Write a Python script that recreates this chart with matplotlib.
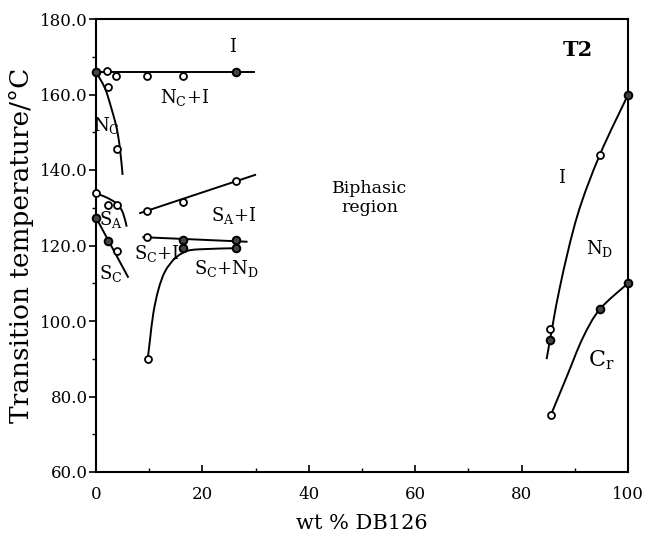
import matplotlib
matplotlib.use("Agg")
import matplotlib.pyplot as plt
from matplotlib.path import Path
from matplotlib.patches import PathPatch
from matplotlib.ticker import MultipleLocator, FormatStrFormatter

plt.rcParams['font.family'] = ['DejaVu Serif']
plt.rcParams['mathtext.fontset'] = 'custom'
plt.rcParams['mathtext.rm'] = 'DejaVu Serif'
plt.rcParams['mathtext.it'] = 'DejaVu Serif:italic'

# ---- data (wt % DB126, temperature / degC) ----
# I -> N_C+I boundary (horizontal)
top_line_x = [0, 29.7]
top_line_t = [166.0, 166.0]
top_open_x = [2.1, 3.8, 9.5, 16.4]
top_open_t = [166.3, 165.0, 165.0, 165.0]
top_fill_x = [0, 26.3]
top_fill_t = [166.0, 166.0]

# N_C curve
nc_x = [0, 1.7, 2.9, 3.9, 4.5, 5.0]
nc_t = [166.0, 161.6, 156.3, 151.0, 145.7, 138.7]
nc_pts_x = [2.2, 3.9]
nc_pts_t = [162.1, 145.6]

# S_A curve
sa_x = [0, 1.37, 2.95, 4.2, 5.1, 5.77]
sa_t = [133.8, 133.1, 132.0, 130.7, 128.5, 125.0]
sa_pts_x = [0, 2.3, 4.0]
sa_pts_t = [133.8, 130.7, 130.7]

# S_C line
sc_x = [0, 6.0]
sc_t = [127.4, 111.7]
sc_fill_x = [0, 2.2]
sc_fill_t = [127.4, 121.2]
sc_open_x = [3.9]
sc_open_t = [118.6]

# S_A+I line
sai_x = [8.3, 29.9]
sai_t = [128.6, 138.7]
sai_pts_x = [9.5, 16.4, 26.3]
sai_pts_t = [129.2, 131.4, 137.0]

# S_C+I line
sci_x = [8.9, 28.3]
sci_t = [122.2, 121.0]
sci_open_x = [9.5]
sci_open_t = [122.2]
sci_fill_x = [16.4, 26.3]
sci_fill_t = [121.5, 121.5]

# S_C+N_D curve
scn_x = [9.72, 10.15, 10.77, 11.71, 12.97, 14.85, 17.05, 19.55, 26.44]
scn_t = [89.9, 95.0, 102.0, 108.2, 113.1, 116.6, 118.5, 119.0, 119.3]
scn_open_x = [9.7]
scn_open_t = [89.9]
scn_fill_x = [16.4, 26.3]
scn_fill_t = [119.3, 119.3]

# I / N_D curve (right)
ind_x = [84.7, 87.2, 90.5, 94.7, 100.0]
ind_t = [89.9, 109.0, 128.0, 144.0, 159.9]
ind_open_x = [85.3, 94.7]
ind_open_t = [97.8, 144.0]
ind_fill_x = [85.3, 100.0]
ind_fill_t = [95.0, 159.9]

# Cr curve
cr_x = [85.5, 88.5, 91.5, 94.7, 100.0]
cr_t = [75.1, 85.3, 95.5, 103.1, 110.0]
cr_open_x = [85.5]
cr_open_t = [75.1]
cr_fill_x = [94.7, 100.0]
cr_fill_t = [103.1, 110.0]

fig = plt.figure(figsize=(6.49, 5.38), dpi=100)
ax = fig.add_axes([96/649, 1-472/538, 532/649, 453/538])

lw = 1.4


def smooth_curve(ax, xs, ts):
    """Draw a smooth (Catmull-Rom as cubic Bezier) path through the given points."""
    pts = list(zip(xs, ts))
    if len(pts) < 3:
        ax.plot(xs, ts, color='black', lw=lw, zorder=2)
        return
    verts = [pts[0]]
    codes = [Path.MOVETO]
    n = len(pts)
    for i in range(n - 1):
        p0 = pts[i - 1] if i > 0 else pts[i]
        p1 = pts[i]
        p2 = pts[i + 1]
        p3 = pts[i + 2] if i + 2 < n else pts[i + 1]
        c1 = (p1[0] + (p2[0] - p0[0]) / 6.0, p1[1] + (p2[1] - p0[1]) / 6.0)
        c2 = (p2[0] - (p3[0] - p1[0]) / 6.0, p2[1] - (p3[1] - p1[1]) / 6.0)
        verts += [c1, c2, p2]
        codes += [Path.CURVE4] * 3
    ax.add_patch(PathPatch(Path(verts, codes), fc='none', ec='black', lw=lw, zorder=2))


for xs, ts in [(top_line_x, top_line_t), (nc_x, nc_t), (sa_x, sa_t), (sc_x, sc_t),
               (sai_x, sai_t), (sci_x, sci_t), (scn_x, scn_t), (ind_x, ind_t), (cr_x, cr_t)]:
    smooth_curve(ax, xs, ts)

open_sets = [(top_open_x, top_open_t), (nc_pts_x, nc_pts_t), (sa_pts_x, sa_pts_t),
             (sc_open_x, sc_open_t), (sai_pts_x, sai_pts_t), (sci_open_x, sci_open_t),
             (scn_open_x, scn_open_t), (ind_open_x, ind_open_t), (cr_open_x, cr_open_t)]
fill_sets = [(top_fill_x, top_fill_t), (sc_fill_x, sc_fill_t), (sci_fill_x, sci_fill_t),
             (scn_fill_x, scn_fill_t), (ind_fill_x, ind_fill_t), (cr_fill_x, cr_fill_t)]
for xs, ts in open_sets:
    ax.plot(xs, ts, 'o', ms=5, mfc='white', mec='black', mew=1.3, zorder=3, clip_on=False)
for xs, ts in fill_sets:
    ax.plot(xs, ts, 'o', ms=5.5, mfc='#444444', mec='black', mew=1.4, zorder=3, clip_on=False)

fs = 13
lab = dict(ha='center', va='center', fontsize=fs)
ax.text(25.6, 172.6, 'I', **lab)
ax.text(16.7, 159.1, r'N$_{\rm C}$+I', **lab)
ax.text(1.9, 151.9, r'N$_{\rm C}$', **lab)
ax.text(90.6, 171.8, 'T2', ha='center', va='center', fontsize=15, fontweight='bold')
ax.text(51.5, 132.5, 'Biphasic\nregion', ha='center', va='center', fontsize=12.5, linespacing=1.15)
ax.text(25.8, 128.0, r'S$_{\rm A}$+I', **lab)
ax.text(2.8, 126.8, r'S$_{\rm A}$', **lab)
ax.text(11.5, 118.0, r'S$_{\rm C}$+I', **lab)
ax.text(24.6, 114.0, r'S$_{\rm C}$+N$_{\rm D}$', **lab)
ax.text(2.8, 112.7, r'S$_{\rm C}$', **lab)
ax.text(87.5, 137.8, 'I', **lab)
ax.text(94.7, 119.3, r'N$_{\rm D}$', **lab)
ax.text(94.9, 89.5, r'C$_{\rm r}$', ha='center', va='center', fontsize=16)

ax.set_xlim(0, 100)
ax.set_ylim(60, 180)
ax.xaxis.set_major_locator(MultipleLocator(20))
ax.xaxis.set_minor_locator(MultipleLocator(10))
ax.yaxis.set_major_locator(MultipleLocator(20))
ax.yaxis.set_minor_locator(MultipleLocator(10))
ax.yaxis.set_major_formatter(FormatStrFormatter('%.1f'))
ax.tick_params(axis='x', which='major', direction='in', length=5, width=1.2, labelsize=12, pad=10)
ax.tick_params(axis='x', which='minor', direction='in', length=3, width=1.0)
ax.tick_params(axis='y', which='major', direction='out', length=5, width=1.2, labelsize=12, pad=1)
ax.tick_params(axis='y', which='minor', direction='out', length=3, width=1.0)
for s in ax.spines.values():
    s.set_linewidth(1.5)

ax.set_xlabel('wt % DB126', fontsize=15, labelpad=8)
ax.set_ylabel('Transition temperature/°C', fontsize=19, labelpad=4)

fig.savefig('out.png', dpi=100)
